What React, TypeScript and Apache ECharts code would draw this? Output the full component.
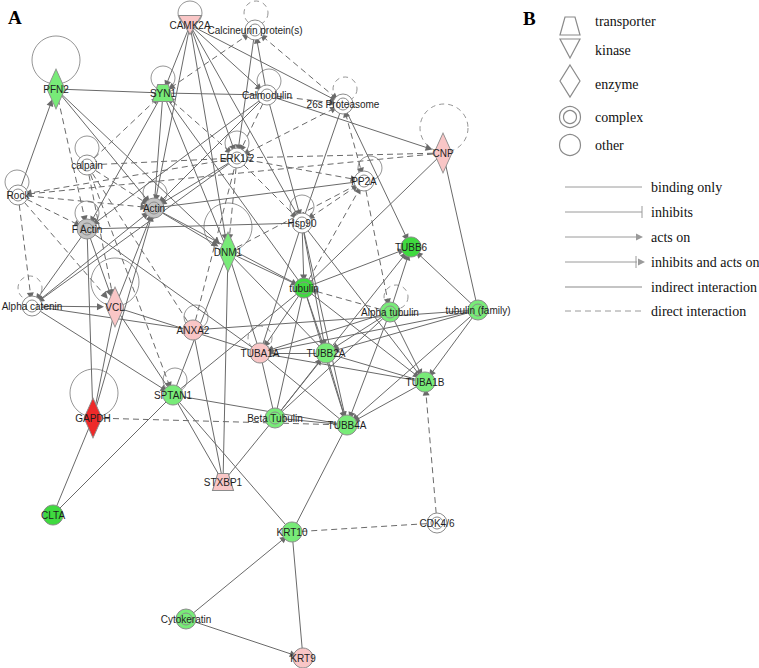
import React, { useEffect, useRef } from 'react';
import * as echarts from 'echarts';

// ---------- data ----------
const nodeNames = ['CAMK2A', 'Calcineurin protein(s)', 'PFN2', 'SYN1', 'Calmodulin', '26s Proteasome', 'CNP', 'ERK1/2', 'calpain', 'PP2A', 'Rock', 'Actin', 'F Actin', 'Hsp90', 'DNM1', 'tubulin', 'TUBB6', 'Alpha catenin', 'VCL', 'ANXA2', 'Alpha tubulin', 'tubulin (family)', 'TUBA1A', 'TUBB2A', 'TUBA1B', 'SPTAN1', 'GAPDH', 'Beta Tubulin', 'TUBB4A', 'STXBP1', 'CLTA', 'KRT10', 'CDK4/6', 'Cytokeratin', 'KRT9'];
const nodeX = [190, 255, 56, 163, 267, 343, 443, 237, 87, 364, 18, 154, 87, 302, 228, 304, 411, 32, 115, 193, 390, 478, 260, 326, 425, 173, 93, 275, 347, 223, 53, 292, 437, 186, 303];
const nodeY = [25, 30, 89, 93, 95, 104, 153, 158, 165, 181, 195, 208, 229, 223, 252, 288, 247, 306, 307, 330, 312, 310, 353, 353, 382, 395, 418, 418, 425, 482, 515, 532, 523, 619, 658];
const nodeType = ['kinase', 'complex', 'enzyme', 'transporter', 'complex', 'complex', 'enzyme', 'complex', 'complex', 'complex', 'complex', 'complex', 'complex', 'complex', 'enzyme', 'complex', 'other', 'complex', 'enzyme', 'other', 'complex', 'complex', 'other', 'other', 'other', 'other', 'enzyme', 'complex', 'other', 'transporter', 'other', 'other', 'complex', 'complex', 'other'];
// expression: dn2 strong down, dn1 down, na no data, gy measured (not significant), up1 up, up3 strong up
const regulation = ['up1', 'na', 'dn1', 'dn1', 'na', 'na', 'up1', 'na', 'na', 'na', 'na', 'gy', 'gy', 'na', 'dn1', 'dn2', 'dn2', 'na', 'up1', 'up1', 'dn1', 'dn1', 'up1', 'dn1', 'dn1', 'dn1', 'up3', 'dn1', 'dn1', 'up1', 'dn2', 'dn1', 'na', 'dn1', 'up1'];

// self loops: node, radius, dashed, centre offset
const loopNodes = ['CAMK2A', 'Calcineurin protein(s)', 'PFN2', 'SYN1', 'Calmodulin', '26s Proteasome', 'CNP', 'ERK1/2', 'calpain', 'PP2A', 'Rock', 'Actin', 'F Actin', 'Hsp90', 'DNM1', 'Alpha catenin', 'VCL', 'ANXA2', 'Alpha tubulin', 'TUBA1A', 'SPTAN1', 'GAPDH'];
const loopR = [12, 12, 24, 12, 12, 12, 24, 12, 12, 12, 12, 12, 12, 12, 24, 12, 24, 12, 12, 12, 12, 24];
const loopDashed = [false, true, false, false, false, true, true, false, false, false, false, false, false, false, false, true, false, false, true, true, false, false];
const loopDx = [0, 1, 0, 0, 2, 2, 1, 0, 0, 6, -1, 1, 0, 0, 0, -2, 0, 3, 6, 0, 2, 1];
const loopDy = [-12, -17, -29, -15, -14, -15, -25, -15, -17, -13, -13, -15, -16, -16, -25, -18, -25, -13, -15, -15, -15, -25];

// edges: source, target, kind (b binding, a acts on, d dashed, da dashed arrow, dd dashed both)
const edges: [string, string, string][] = [
  ['CAMK2A', 'Calmodulin', 'a'], ['CAMK2A', '26s Proteasome', 'a'], ['CAMK2A', 'SYN1', 'a'], ['CAMK2A', 'Actin', 'a'],
  ['CAMK2A', 'ERK1/2', 'a'], ['CAMK2A', 'Hsp90', 'b'], ['CAMK2A', 'DNM1', 'a'],
  ['Calcineurin protein(s)', 'ERK1/2', 'a'], ['Calcineurin protein(s)', '26s Proteasome', 'dd'],
  ['Calmodulin', 'Calcineurin protein(s)', 'a'], ['SYN1', 'Calcineurin protein(s)', 'dd'],
  ['PFN2', 'SYN1', 'b'], ['SYN1', 'Calmodulin', 'b'], ['Calmodulin', '26s Proteasome', 'da'], ['Calmodulin', 'CNP', 'a'],
  ['Calmodulin', 'Hsp90', 'a'], ['Calmodulin', 'Actin', 'a'], ['Calmodulin', 'ERK1/2', 'da'], ['Calmodulin', 'F Actin', 'a'],
  ['26s Proteasome', 'ERK1/2', 'dd'], ['26s Proteasome', 'PP2A', 'dd'], ['26s Proteasome', 'Hsp90', 'b'], ['26s Proteasome', 'TUBB6', 'a'],
  ['CNP', 'ERK1/2', 'd'], ['CNP', 'Rock', 'da'], ['CNP', 'tubulin', 'b'], ['CNP', 'tubulin (family)', 'b'],
  ['ERK1/2', 'PP2A', 'da'], ['ERK1/2', 'Hsp90', 'da'], ['ERK1/2', 'calpain', 'd'], ['ERK1/2', 'Rock', 'da'],
  ['ERK1/2', 'Actin', 'a'], ['ERK1/2', 'DNM1', 'da'], ['ERK1/2', 'SYN1', 'dd'], ['ERK1/2', 'Alpha catenin', 'a'],
  ['Actin', 'PP2A', 'b'], ['Rock', 'PFN2', 'a'], ['Rock', 'Actin', 'da'], ['Rock', 'F Actin', 'da'], ['Rock', 'Alpha catenin', 'da'],
  ['Rock', 'VCL', 'da'], ['PFN2', 'Actin', 'a'], ['PFN2', 'DNM1', 'a'], ['PFN2', 'F Actin', 'da'],
  ['calpain', 'SYN1', 'da'], ['calpain', 'Actin', 'da'], ['calpain', 'VCL', 'da'], ['calpain', 'SPTAN1', 'da'], ['calpain', 'ANXA2', 'd'],
  ['SYN1', 'Actin', 'b'], ['SYN1', 'F Actin', 'a'], ['SYN1', 'DNM1', 'b'], ['SYN1', 'tubulin', 'b'],
  ['Actin', 'DNM1', 'a'], ['Actin', 'tubulin', 'b'], ['F Actin', 'Hsp90', 'b'], ['F Actin', 'Alpha catenin', 'a'],
  ['F Actin', 'GAPDH', 'b'], ['F Actin', 'VCL', 'a'], ['F Actin', 'TUBA1A', 'b'],
  ['Alpha catenin', 'Actin', 'a'], ['Alpha catenin', 'VCL', 'a'], ['Alpha catenin', 'SPTAN1', 'a'], ['Alpha catenin', 'ANXA2', 'b'],
  ['VCL', 'Actin', 'a'], ['VCL', 'GAPDH', 'b'], ['VCL', 'SPTAN1', 'b'], ['VCL', 'TUBA1A', 'b'],
  ['GAPDH', 'Actin', 'a'], ['GAPDH', 'CLTA', 'b'], ['GAPDH', 'TUBB4A', 'd'],
  ['SPTAN1', 'CLTA', 'b'], ['SPTAN1', 'TUBB4A', 'b'], ['SPTAN1', 'STXBP1', 'b'], ['SPTAN1', 'KRT10', 'b'], ['SPTAN1', 'tubulin', 'b'], ['SPTAN1', 'DNM1', 'b'],
  ['ANXA2', 'tubulin (family)', 'b'], ['ANXA2', 'STXBP1', 'b'], ['ANXA2', 'ERK1/2', 'd'],
  ['DNM1', 'tubulin', 'a'], ['DNM1', 'STXBP1', 'b'], ['DNM1', 'TUBA1A', 'b'], ['DNM1', 'TUBB2A', 'b'], ['DNM1', 'PP2A', 'd'],
  ['Hsp90', 'tubulin', 'a'], ['Hsp90', 'TUBB2A', 'a'], ['Hsp90', 'TUBA1B', 'b'], ['Hsp90', 'TUBA1A', 'b'], ['Hsp90', 'PP2A', 'dd'], ['Hsp90', 'TUBB4A', 'b'],
  ['tubulin', 'TUBB6', 'a'], ['tubulin', 'TUBA1A', 'a'], ['tubulin', 'TUBB2A', 'a'], ['tubulin', 'TUBB4A', 'a'], ['tubulin', 'TUBA1B', 'a'],
  ['Alpha tubulin', 'tubulin', 'da'], ['tubulin', 'Beta Tubulin', 'b'], ['tubulin', 'PP2A', 'da'], ['PP2A', 'Alpha tubulin', 'da'],
  ['Alpha tubulin', 'TUBB6', 'a'], ['Alpha tubulin', 'TUBA1A', 'a'], ['Alpha tubulin', 'TUBB2A', 'a'], ['Alpha tubulin', 'TUBB4A', 'a'],
  ['Alpha tubulin', 'TUBA1B', 'a'], ['Alpha tubulin', 'Beta Tubulin', 'b'],
  ['tubulin (family)', 'TUBB6', 'a'], ['tubulin (family)', 'TUBA1B', 'a'], ['tubulin (family)', 'TUBA1A', 'a'], ['tubulin (family)', 'TUBB2A', 'a'], ['tubulin (family)', 'TUBB4A', 'a'],
  ['Beta Tubulin', 'TUBB2A', 'a'], ['Beta Tubulin', 'TUBB6', 'a'], ['Beta Tubulin', 'TUBB4A', 'b'], ['Beta Tubulin', 'STXBP1', 'b'],
  ['TUBA1A', 'TUBB2A', 'b'], ['TUBA1A', 'TUBA1B', 'b'], ['TUBA1A', 'TUBB4A', 'b'], ['TUBA1A', 'Beta Tubulin', 'b'],
  ['TUBB2A', 'TUBB4A', 'a'], ['TUBB2A', 'TUBA1B', 'b'], ['TUBB4A', 'KRT10', 'b'], ['TUBA1B', 'TUBB4A', 'a'],
  ['CDK4/6', 'TUBA1B', 'da'], ['CDK4/6', 'KRT10', 'd'], ['Cytokeratin', 'KRT10', 'a'], ['Cytokeratin', 'KRT9', 'a'], ['KRT10', 'KRT9', 'b'],
];

const shapeLegend = ['transporter', 'kinase', 'enzyme', 'complex', 'other'];
const lineLegend = ['binding only', 'inhibits', 'acts on', 'inhibits and acts on', 'indirect interaction', 'direct interaction'];

// ---------- styling ----------
const COLORS: Record<string, string> = {
  dn2: '#3fda3f', dn1: '#78eb78', na: '#ffffff', gy: '#c2c2c2', up1: '#f9c6c6', up3: '#ee2a2a',
};
const EDGE = '#6a6a6a';
const COMPLEX_PATH = 'path://M20,10 A10,10 0 1 1 0,10 A10,10 0 1 1 20,10 Z M16,10 A6,6 0 1 1 4,10 A6,6 0 1 1 16,10 Z';
const TRANSPORTER_PATH = 'path://M5,0 L15,0 L20,17 L0,17 Z';
const KINASE_PATH = 'path://M0,0 L22,0 L11,19 Z';

function symbolFor(t: string): { symbol: string; symbolSize: number | number[] } {
  switch (t) {
    case 'complex': return { symbol: COMPLEX_PATH, symbolSize: 20 };
    case 'enzyme': return { symbol: 'diamond', symbolSize: [18, 40] };
    case 'kinase': return { symbol: KINASE_PATH, symbolSize: [23, 19] };
    case 'transporter': return { symbol: TRANSPORTER_PATH, symbolSize: [21, 17] };
    default: return { symbol: 'circle', symbolSize: 20 };
  }
}

function edgeStyle(kind: string) {
  const dashed = kind.startsWith('d');
  let symbol: string[] = ['none', 'none'];
  if (kind === 'a' || kind === 'da') symbol = ['none', 'triangle'];
  if (kind === 'dd' || kind === 'aa') symbol = ['triangle', 'triangle'];
  return { dashed, symbol };
}

const serif = '"Liberation Serif", "Times New Roman", serif';

function buildGraphic() {
  const g: any[] = [];
  const stroke = { stroke: '#8a8a8a', lineWidth: 1.2, fill: '#fff' };
  g.push({ type: 'text', x: 8, y: 17, style: { text: 'A', font: `bold 19px ${serif}`, fill: '#000', align: 'left', verticalAlign: 'middle' } });
  g.push({ type: 'text', x: 523, y: 18, style: { text: 'B', font: `bold 19px ${serif}`, fill: '#000', align: 'left', verticalAlign: 'middle' } });
  const cx = 570;
  const shapeY = [26, 48, 81, 117, 145];
  const textY = [21, 50, 84, 117, 145];
  g.push({ type: 'polygon', shape: { points: [[cx - 5, shapeY[0] - 9], [cx + 5, shapeY[0] - 9], [cx + 10, shapeY[0] + 9], [cx - 10, shapeY[0] + 9]] }, style: stroke });
  g.push({ type: 'polygon', shape: { points: [[cx - 10, shapeY[1] - 9], [cx + 10, shapeY[1] - 9], [cx, shapeY[1] + 10]] }, style: stroke });
  g.push({ type: 'polygon', shape: { points: [[cx, shapeY[2] - 16], [cx + 10, shapeY[2]], [cx, shapeY[2] + 16], [cx - 10, shapeY[2]]] }, style: stroke });
  g.push({ type: 'circle', shape: { cx, cy: shapeY[3], r: 10.5 }, style: stroke });
  g.push({ type: 'circle', shape: { cx, cy: shapeY[3], r: 6.5 }, style: stroke });
  g.push({ type: 'circle', shape: { cx, cy: shapeY[4], r: 10.5 }, style: stroke });
  shapeLegend.forEach((t, i) => {
    g.push({ type: 'text', x: 595, y: textY[i], style: { text: t, font: `14px ${serif}`, fill: '#111', align: 'left', verticalAlign: 'middle' } });
  });
  const lineY = [187, 212, 237, 262, 287, 311];
  const lx1 = 565, lx2 = 642;
  const ls = { stroke: '#9a9a9a', lineWidth: 1 };
  lineY.forEach((y, i) => {
    const style: any = { ...ls };
    if (i === 4) { style.lineWidth = 1.6; style.stroke = '#b0b0b0'; }
    if (i === 5) style.lineDash = [6, 4];
    const end = i === 2 ? lx2 - 5 : i === 3 ? lx2 - 5 : lx2;
    g.push({ type: 'line', shape: { x1: lx1, y1: y, x2: end, y2: y }, style });
    if (i === 1) g.push({ type: 'line', shape: { x1: lx2, y1: y - 6, x2: lx2, y2: y + 6 }, style: ls });
    if (i === 2) g.push({ type: 'polygon', shape: { points: [[lx2 - 6, y - 3.5], [lx2 + 1, y], [lx2 - 6, y + 3.5]] }, style: { fill: '#9a9a9a' } });
    if (i === 3) {
      g.push({ type: 'line', shape: { x1: lx2 - 6, y1: y - 6, x2: lx2 - 6, y2: y + 6 }, style: ls });
      g.push({ type: 'polygon', shape: { points: [[lx2 - 4, y - 3.5], [lx2 + 3, y], [lx2 - 4, y + 3.5]] }, style: { fill: '#9a9a9a' } });
    }
    g.push({ type: 'text', x: 651, y, style: { text: lineLegend[i], font: `14px ${serif}`, fill: '#111', align: 'left', verticalAlign: 'middle' } });
  });
  return g;
}

export default function App() {
  const ref = useRef<HTMLDivElement>(null);
  useEffect(() => {
    if (!ref.current) return;
    const chart = echarts.init(ref.current, undefined, { renderer: 'svg' });
    const nodes = nodeNames.map((name, i) => {
      const s = symbolFor(nodeType[i]);
      return {
        name,
        value: [nodeX[i], nodeY[i]],
        symbol: s.symbol,
        symbolSize: s.symbolSize,
        itemStyle: { color: COLORS[regulation[i]], borderColor: '#8c8c8c', borderWidth: 1 },
      };
    });
    const links = edges.map(([s, t, k]) => {
      const st = edgeStyle(k);
      return {
        source: s,
        target: t,
        symbol: st.symbol,
        symbolSize: 7,
        lineStyle: { type: st.dashed ? [6, 4] : 'solid' },
      };
    });
    const loops = loopNodes.map((n, i) => {
      const k = nodeNames.indexOf(n);
      return {
        value: [nodeX[k] + loopDx[i], nodeY[k] + loopDy[i]],
        symbolSize: loopR[i] * 2,
        itemStyle: { borderType: loopDashed[i] ? [5, 4] : 'solid' },
      };
    });
    chart.setOption({
      animation: false,
      backgroundColor: '#ffffff',
      grid: { left: 0, right: 0, top: 0, bottom: 0, containLabel: false },
      xAxis: { type: 'value', min: 0, max: 759, show: false },
      yAxis: { type: 'value', min: 0, max: 668, inverse: true, show: false },
      graphic: buildGraphic(),
      series: [
        {
          type: 'scatter',
          z: 1,
          silent: true,
          symbol: 'circle',
          itemStyle: { color: 'rgba(0,0,0,0)', borderColor: '#7a7a7a', borderWidth: 1 },
          data: loops,
        },
        {
          type: 'graph',
          coordinateSystem: 'cartesian2d',
          z: 2,
          silent: true,
          data: nodes,
          links,
          edgeSymbolSize: 7,
          lineStyle: { color: EDGE, width: 1, opacity: 1, curveness: 0 },
          label: {
            show: true,
            position: 'inside',
            fontSize: 10,
            color: '#1e1e1e',
            textBorderWidth: 0,
            textBorderColor: 'transparent',
            textShadowBlur: 0,
            fontFamily: '"Liberation Sans", Arial, sans-serif',
          },
          emphasis: { disabled: true },
        },
      ],
    });
    return () => chart.dispose();
  }, []);
  return (
    <div
      ref={ref}
      style={{ position: 'fixed', left: 0, top: 0, width: 759, height: 668, background: '#fff' }}
    />
  );
}
